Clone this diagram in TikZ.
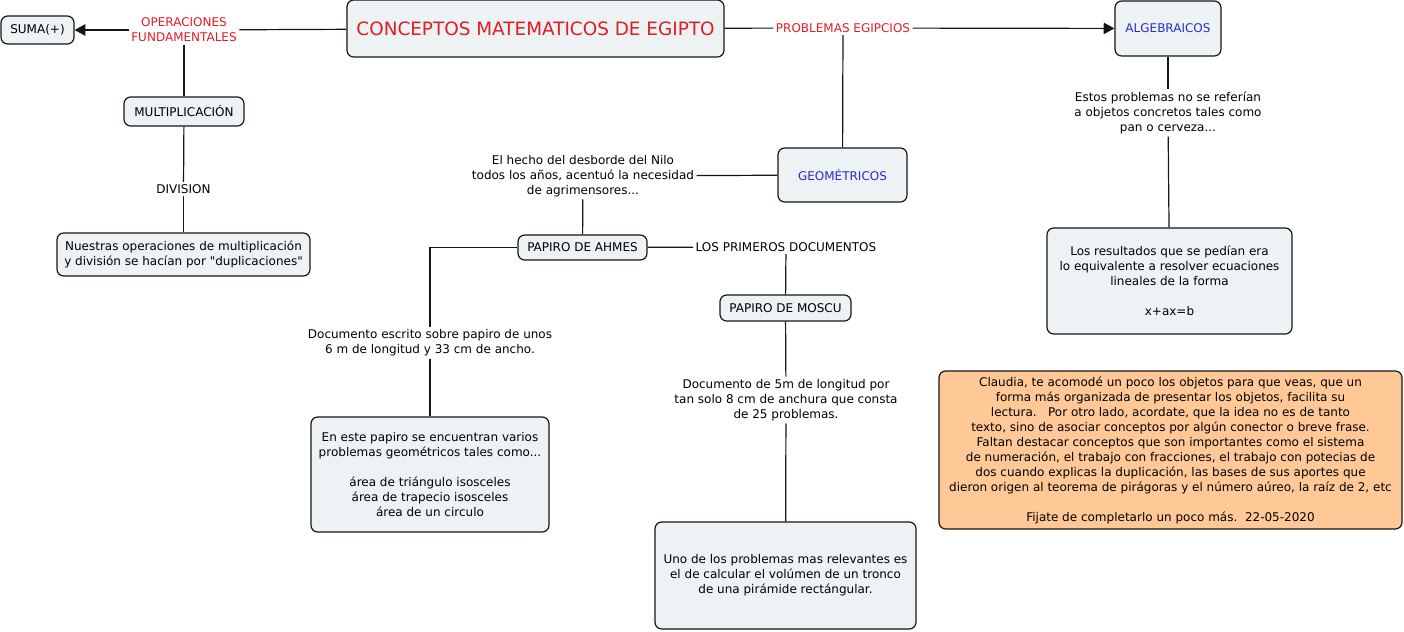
\documentclass[tikz,border=0pt]{standalone}
\usepackage{fontspec}
\setmainfont{DejaVu Sans}
\usetikzlibrary{arrows.meta, positioning}
\definecolor{cfill}{HTML}{EDF2F5}
\definecolor{cnote}{HTML}{FFC896}
\definecolor{cred}{HTML}{E31B23}
\definecolor{cblue}{HTML}{2B2BCC}
\definecolor{cline}{HTML}{151515}
\tikzset{
  every picture/.style={font=\fontsize{9}{11.25}\selectfont, line width=0.9pt},
  concept/.style={draw=cline, fill=#1, rounded corners=5pt, align=center, inner sep=2pt},
  concept/.default=cfill,
  phrase/.style={align=center, inner sep=1.5pt},
  link/.style={draw=cline},
  arrow/.style={-{Triangle[length=8pt, width=8.5pt]}, draw=cline},
}

\begin{document}
\begin{tikzpicture}[x=0.75pt, y=-0.75pt]
  \useasboundingbox (0,0) rectangle (1404,632);
  % concepts
  \node[concept, minimum width=282.75pt, minimum height=42.75pt, text=cred, font=\fontsize{13.8}{16}\selectfont] (main) at (535.5,28.5) {CONCEPTOS MATEMATICOS DE EGIPTO};
  \node[concept, minimum width=54.75pt, minimum height=21pt] (suma) at (37.5,30) {SUMA(+)};
  \node[concept, minimum width=90pt, minimum height=21.75pt] (mult) at (184,111.5) {MULTIPLICACIÓN};
  \node[concept, minimum width=189.75pt, minimum height=32.25pt] (dup) at (183.5,254.5) {Nuestras operaciones de multiplicación\\y división se hacían por \textquotedbl duplicaciones\textquotedbl};
  \node[concept, minimum width=79.5pt, minimum height=41.25pt, text=cblue] (alg) at (1168,28.5) {ALGEBRAICOS};
  \node[concept, minimum width=96.75pt, minimum height=40.5pt, text=cblue] (geom) at (842.5,175) {GEOMÉTRICOS};
  \node[concept, minimum width=96.75pt, minimum height=18.75pt] (ahmes) at (582.5,247.5) {PAPIRO DE AHMES};
  \node[concept, minimum width=98.25pt, minimum height=19.5pt] (moscu) at (785.5,308) {PAPIRO DE MOSCU};
  \node[concept, minimum width=178.5pt, minimum height=86.25pt] (areas) at (430,474.5) {En este papiro se encuentran varios\\problemas geométricos tales como...\\[11.25pt]área de triángulo isosceles\\área de trapecio isosceles\\área de un circulo};
  \node[concept, minimum width=195.75pt, minimum height=80.25pt] (tronco) at (785.5,575.5) {Uno de los problemas mas relevantes es\\el de calcular el volúmen de un tronco\\de una pirámide rectángular.};
  \node[concept, minimum width=183.75pt, minimum height=79.5pt] (ecu) at (1169.5,281) {Los resultados que se pedían era\\lo equivalente a resolver ecuaciones\\lineales de la forma\\[11.25pt]x+ax=b};
  \node[concept=cnote, minimum width=347.25pt, minimum height=118.5pt] (nota) at (1170.5,450) {Claudia, te acomodé un poco los objetos para que veas, que un\\forma más organizada de presentar los objetos, facilita su\\lectura.\ \ \ Por otro lado, acordate, que la idea no es de tanto\\texto, sino de asociar conceptos por algún conector o breve frase.\\Faltan destacar conceptos que son importantes como el sistema\\de numeración, el trabajo con fracciones, el trabajo con potecias de\\dos cuando explicas la duplicación, las bases de sus aportes que\\dieron origen al teorema de pirágoras y el número aúreo, la raíz de 2, etc\\[11.25pt]Fijate de completarlo un poco más.\ \ 22-05-2020};
  % linking phrases
  \node[phrase, text=cred] (ops) at (184,30) {OPERACIONES\\FUNDAMENTALES};
  \node[phrase] (div) at (183.5,189) {DIVISION};
  \node[phrase, text=cred] (prob) at (843,28) {PROBLEMAS EGIPCIOS};
  \node[phrase] (nilo) at (583,176) {El hecho del desborde del Nilo\\todos los años, acentuó la necesidad\\de agrimensores...};
  \node[phrase] (prim) at (786,247) {LOS PRIMEROS DOCUMENTOS};
  \node[phrase] (doc1) at (430,343) {Documento escrito sobre papiro de unos\\6 m de longitud y 33 cm de ancho.};
  \node[phrase] (doc2) at (786,400) {Documento de 5m de longitud por\\tan solo 8 cm de anchura que consta\\de 25 problemas.};
  \node[phrase] (estos) at (1168,113) {Estos problemas no se referían\\a objetos concretos tales como\\pan o cerveza...};
  % links
  \draw[link] (main) -- (ops);
  \draw[arrow] (ops) -- (suma);
  \draw[link] (ops) -- (mult);
  \draw[link] (mult) -- (div);
  \draw[link] (div) -- (dup);
  \draw[link] (main) -- (prob);
  \draw[arrow] (prob) -- (alg);
  \draw[link] (prob) -- (geom);
  \draw[link] (geom) -- (nilo);
  \draw[link] (nilo) -- (ahmes);
  \draw[link] (ahmes) -- (prim);
  \draw[link] (prim) -- (moscu);
  \draw[link] (ahmes.west) -| (doc1.north);
  \draw[link] (doc1) -- (areas);
  \draw[link] (moscu) -- (doc2);
  \draw[link] (doc2) -- (tronco);
  \draw[link] (alg) -- (estos);
  \draw[link] (estos) -- (ecu);
\end{tikzpicture}
\end{document}
